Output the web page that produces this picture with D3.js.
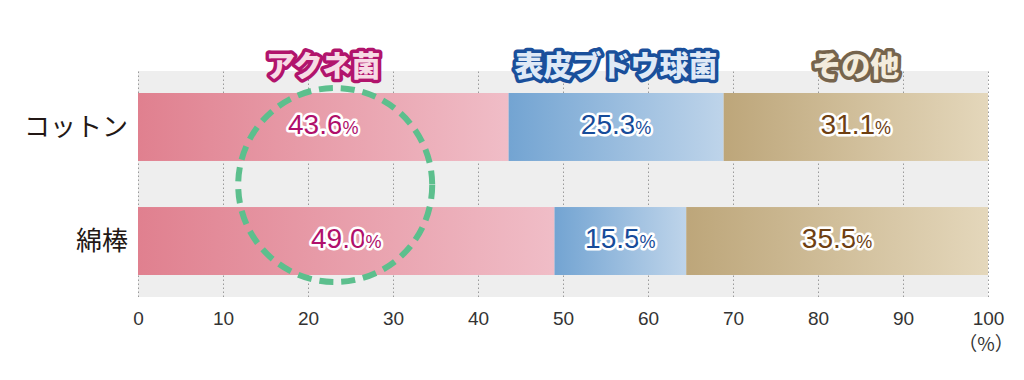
<!DOCTYPE html>
<html><head><meta charset="utf-8">
<script src="https://cdn.jsdelivr.net/npm/d3@7"></script>
<style>
body{margin:0;background:#fff;}
svg{display:block;}
</style></head>
<body>
<svg id="chart" width="1024" height="380"></svg>
<script>
const categories = ["コットン", "綿棒"];
const seriesNames = ["アクネ菌", "表皮ブドウ球菌", "その他"];
const acne = [43.6, 49.0];
const staph = [25.3, 15.5];
const other = [31.1, 35.5];
const xTicks = [0, 10, 20, 30, 40, 50, 60, 70, 80, 90, 100];

const svg = d3.select("#chart");
const W = 1024, H = 380;
const m = {left: 138, right: 36, top: 71, bottom: 83};
const x = d3.scaleLinear().domain([0, 100]).range([m.left, W - m.right]);
const y = d3.scaleBand().domain(categories).range([m.top, H - m.bottom]).paddingInner(0.404).paddingOuter(0.193);

const gradStops = [
  ["#e0808f", "#f0bdc7"],
  ["#73a4d2", "#bed4ea"],
  ["#bda67a", "#e4d7bb"]
];
const labelFill = ["#b0106b", "#174c9a", "#6e3f12"];
const titleStroke = ["#b1146c", "#1a4f9b", "#76644d"];
const titleFill = ["#f7dbe5", "#dfe9f6", "#f3ecdd"];

const defs = svg.append("defs");
gradStops.forEach((c, i) => {
  const g = defs.append("linearGradient").attr("id", "g" + i).attr("x1", 0).attr("x2", 1).attr("y1", 0).attr("y2", 0);
  g.append("stop").attr("offset", 0).attr("stop-color", c[0]);
  g.append("stop").attr("offset", 1).attr("stop-color", c[1]);
});

// background
svg.append("rect").attr("x", x(0)).attr("y", m.top).attr("width", x(100) - x(0)).attr("height", H - m.bottom - m.top).attr("fill", "#eeeeee");

// grid + axis
const axis = svg.append("g").attr("transform", `translate(0,${H - m.bottom})`)
  .call(d3.axisBottom(x).tickValues(xTicks).tickSize(-(H - m.bottom - m.top)).tickPadding(15).tickFormat(d3.format("d")));
axis.select(".domain").remove();
axis.selectAll(".tick line").attr("stroke", "#9a9a9a").attr("stroke-width", 1).attr("stroke-dasharray", "1.5,2.5");
axis.selectAll(".tick text").attr("fill", "#333").attr("font-family", "'Liberation Sans Narrow','Liberation Sans',sans-serif").attr("font-size", 19);
svg.append("text").attr("x", x(100) - 2).attr("y", 351).attr("text-anchor", "middle")
  .attr("font-family", "'Noto Sans CJK JP',sans-serif").attr("font-size", 19).attr("fill", "#333").text("（%）");

// stacked data
const rows = categories.map((c, i) => ({cat: c, vals: [acne[i], staph[i], other[i]]}));
const segs = [];
rows.forEach(r => {
  let acc = 0;
  r.vals.forEach((v, k) => { segs.push({cat: r.cat, k, x0: acc, x1: acc + v, v}); acc += v; });
});

svg.append("g").selectAll("rect").data(segs).join("rect")
  .attr("x", d => x(d.x0)).attr("y", d => y(d.cat))
  .attr("width", d => x(d.x1) - x(d.x0)).attr("height", y.bandwidth())
  .attr("fill", d => `url(#g${d.k})`);

// category labels
svg.append("g").selectAll("text").data(categories).join("text")
  .attr("x", 128).attr("y", d => y(d) + y.bandwidth() / 2).attr("dy", "0.36em")
  .attr("text-anchor", "end").attr("font-family", "'Noto Sans CJK JP',sans-serif")
  .attr("font-size", 26).attr("fill", "#231815").text(d => d);

// dashed circle
svg.append("circle").attr("cx", x(23.2)).attr("cy", (y(categories[0]) + y(categories[1]) + y.bandwidth()) / 2 + 1)
  .attr("r", 97).attr("fill", "none").attr("stroke", "#5cbf8d").attr("stroke-width", 6)
  .attr("stroke-dasharray", "14,8").attr("stroke-linecap", "butt");

// value labels
const lbl = svg.append("g").selectAll("text").data(segs).join("text")
  .attr("x", d => (x(d.x0) + x(d.x1)) / 2).attr("y", d => y(d.cat) + y.bandwidth() / 2).attr("dy", "0.45em")
  .attr("text-anchor", "middle").attr("font-family", "'Liberation Sans',sans-serif")
  .attr("fill", d => labelFill[d.k]).attr("stroke", "#fff").attr("stroke-width", 5)
  .attr("stroke-linejoin", "round").attr("paint-order", "stroke");
lbl.append("tspan").attr("font-size", 28).text(d => d.v.toFixed(1));
lbl.append("tspan").attr("font-size", 18).text("%");

// series titles (over first row segments)
svg.append("g").selectAll("text").data(segs.filter(d => d.cat === categories[0])).join("text")
  .attr("x", d => (x(d.x0) + x(d.x1)) / 2).attr("y", 77)
  .attr("text-anchor", "middle").attr("font-family", "'Noto Sans CJK JP',sans-serif")
  .attr("font-weight", 900).attr("font-size", 29)
  .attr("fill", d => titleFill[d.k]).attr("stroke", d => titleStroke[d.k]).attr("stroke-width", 7)
  .attr("stroke-linejoin", "round").attr("paint-order", "stroke")
  .text(d => seriesNames[d.k]);
</script>
</body></html>
